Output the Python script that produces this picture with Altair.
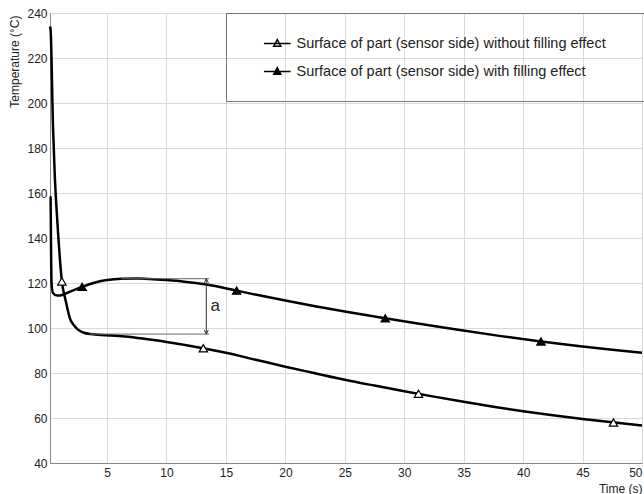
import altair as alt
import pandas as pd

FONT = "Liberation Sans"

series_names = [
    "Surface of part (sensor side) without filling effect",
    "Surface of part (sensor side) with filling effect",
]

# curve without filling effect (open triangles)
t_without = [0.2, 0.25, 0.45, 0.6, 0.75, 0.9, 1.05, 1.2, 1.5, 1.9, 2.2, 2.5, 3.0, 3.6, 5.0,
             6.5, 8.0, 10, 12.5, 15, 17.5, 20, 22.5, 25, 27.5, 30, 32.5, 35, 37.5, 40,
             42.5, 45, 47.5, 50]
T_without = [234, 232.6, 190, 168, 153, 140.5, 129.5, 120.7, 112.6, 103.9, 101.3, 99.5, 98.0,
             97.3, 96.8, 96.2, 95.3, 93.8, 91.6, 89.0, 85.9, 82.8, 79.9, 77.0, 74.4, 71.9,
             69.5, 67.2, 65.0, 63.0, 61.2, 59.6, 58.1, 56.7]

# curve with filling effect (filled triangles)
t_with = [0.2, 0.25, 0.28, 0.33, 0.45, 0.8, 1.3, 2.0, 2.9, 4.0, 5.0, 6.2, 7.5, 8.6, 10,
          11.5, 13.35, 15.9, 18, 20, 22.5, 25, 28.4, 31, 34.8, 38, 41.5, 44.8, 47.5, 50]
T_with = [158.5, 158, 140, 120, 115.6, 114.4, 114.8, 116.4, 118.3, 120.2, 121.3, 121.9,
          122.0, 121.8, 121.3, 120.6, 119.3, 116.6, 114.3, 112.2, 109.7, 107.3, 104.3,
          102.1, 99.0, 96.5, 94.0, 91.9, 90.3, 89.0]

# markers
mk_t_without = [1.2, 13.1, 31.2, 47.6]
mk_T_without = [120.7, 91.0, 70.8, 58.0]
mk_t_with = [2.9, 15.9, 28.4, 41.5]
mk_T_with = [118.3, 116.6, 104.3, 94.0]

x_ticks = [5, 10, 15, 20, 25, 30, 35, 40, 45, 50]
y_ticks = [40, 60, 80, 100, 120, 140, 160, 180, 200, 220, 240]

# annotation "a"
a_start_t = [6.2, 3.55]
a_level_T = [121.9, 97.3]
a_end_t = 13.6
a_arrow_t = 13.35
a_label = "a"
a_label_t = 13.7
a_label_T = 109.6

curves = pd.concat([
    pd.DataFrame({"t": t_without, "T": T_without, "series": series_names[0]}),
    pd.DataFrame({"t": t_with, "T": T_with, "series": series_names[1]}),
])
markers = pd.concat([
    pd.DataFrame({"t": mk_t_without, "T": mk_T_without, "series": series_names[0]}),
    pd.DataFrame({"t": mk_t_with, "T": mk_T_with, "series": series_names[1]}),
])
levels = pd.DataFrame({"t": a_start_t, "t_end": [a_end_t] * 2, "T": a_level_T})
arrow = pd.DataFrame({"t": [a_arrow_t], "T": [a_level_T[0]], "T_end": [a_level_T[1]]})
arrow_top = pd.DataFrame({"t": [a_arrow_t], "T": [a_level_T[0]]})
arrow_bot = pd.DataFrame({"t": [a_arrow_t], "T": [a_level_T[1]]})
label_df = pd.DataFrame({"t": [a_label_t], "T": [a_label_T], "label": [a_label]})

xs = alt.Scale(domain=[0.2, 50], nice=False, zero=False)
ys = alt.Scale(domain=[40, 240], nice=False, zero=False)

x_axis = alt.Axis(values=x_ticks, title="Time (s)", titleX=592, titleY=25,
                  titleAlign="right", titleBaseline="middle", labelPadding=4)
y_axis = alt.Axis(values=y_ticks, title="Temperature (°C)", titleX=-36, titleY=2,
                  titleAngle=270, titleAlign="right", titleBaseline="middle",
                  labelPadding=3)


def X(field="t"):
    return alt.X(f"{field}:Q", scale=xs, axis=x_axis)


def Y(field="T"):
    return alt.Y(f"{field}:Q", scale=ys, axis=y_axis)


lines = alt.Chart(curves).mark_line(
    color="black", strokeWidth=2.5, interpolate="monotone"
).encode(x=X(), y=Y(), detail="series:N")

# legend glyph: short line with a triangle on it
legend_symbol = "M-1.9,0H1.9M0,-0.57L0.5,0.39L-0.5,0.39Z"

points = alt.Chart(markers).mark_point(
    shape="triangle-up", filled=True, size=70, stroke="black", strokeWidth=1.2, opacity=1
).encode(
    x=X(), y=Y(),
    fill=alt.Fill("series:N",
                  scale=alt.Scale(domain=series_names, range=["white", "black"]),
                  legend=alt.Legend(
                      title=None, orient="none", legendX=176, legendY=0,
                      symbolType=legend_symbol, symbolSize=196,
                      symbolStrokeColor="black", symbolStrokeWidth=1.5,
                      labelFont=FONT, labelFontSize=14.5, labelColor="#222",
                      labelLimit=700, padding=22.5, rowPadding=13,
                      symbolOffset=20.75, labelOffset=11.25, strokeColor="#777",
                      labelExpr="datum.label + '\u2800\u2800'",
                  )),
)

level_rules = alt.Chart(levels).mark_rule(color="#666", strokeWidth=1).encode(
    x=X(), x2="t_end:Q", y=Y()
)
arrow_rule = alt.Chart(arrow).mark_rule(color="#333", strokeWidth=1).encode(
    x=X(), y=Y(), y2="T_end:Q"
)
head_top = alt.Chart(arrow_top).mark_point(
    shape="M-1,2L0,0L1,2", size=16, filled=False, color="#333", strokeWidth=1, opacity=1
).encode(x=X(), y=Y())
head_bot = alt.Chart(arrow_bot).mark_point(
    shape="M-1,-2L0,0L1,-2", size=16, filled=False, color="#333", strokeWidth=1, opacity=1
).encode(x=X(), y=Y())
label = alt.Chart(label_df).mark_text(
    align="left", baseline="middle", fontSize=17, font=FONT, color="#222"
).encode(x=X(), y=Y(), text="label:N")

chart = alt.layer(
    lines, points, level_rules, arrow_rule, head_top, head_bot, label
).properties(
    width=592, height=450,
    padding={"left": 50, "top": 13, "right": 2, "bottom": 31},
    autosize=alt.AutoSizeParams(type="none"),
).configure_axis(
    labelFont=FONT, titleFont=FONT, labelFontSize=12, titleFontSize=12,
    titleFontWeight="normal", labelColor="#222", titleColor="#222",
    gridColor="#d9d9d9", gridWidth=1, domainColor="#888", ticks=False,
).configure_legend(
    labelFont=FONT, labelFontSize=14.5,
).configure_view(stroke="#888", strokeWidth=1)

chart.save("out.html", embed_options={"renderer": "svg", "actions": False})
